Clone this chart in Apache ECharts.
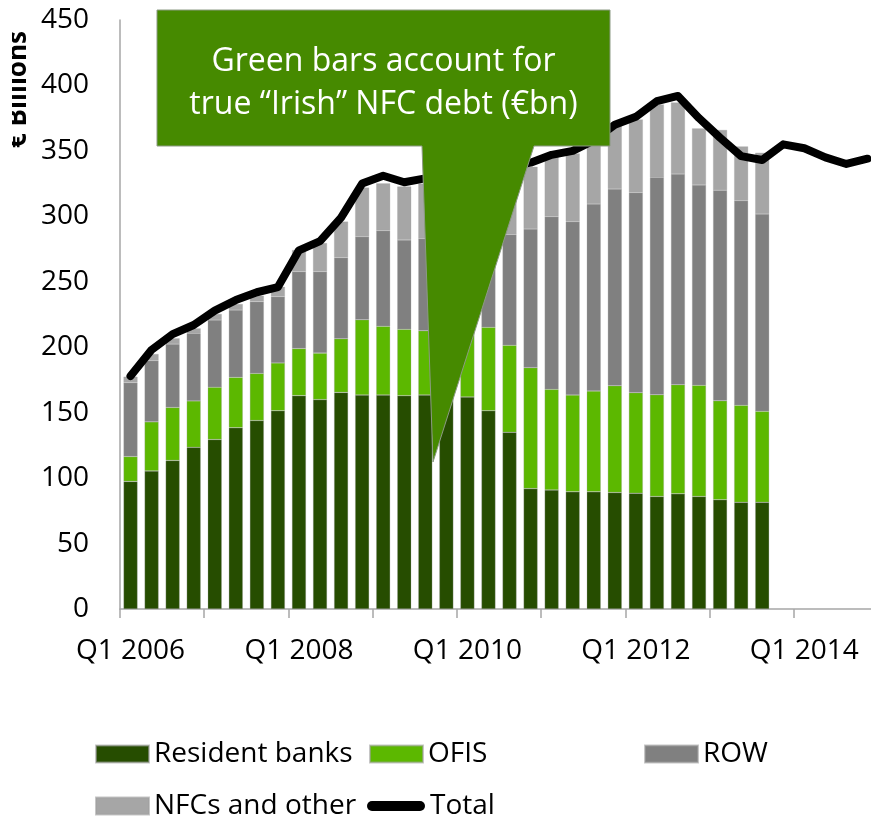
<!DOCTYPE html>
<html>
<head>
<meta charset="utf-8">
<script src="https://cdn.jsdelivr.net/npm/echarts@6/dist/echarts.min.js"></script>
<style>
html,body{margin:0;padding:0;background:#fff;overflow:hidden;width:871px;height:819px;}
#chart{width:878px;height:819px;}
</style>
</head>
<body>
<div id="chart"></div>
<script>
const categories = [
  'Q1 2006','Q2 2006','Q3 2006','Q4 2006','Q1 2007','Q2 2007','Q3 2007','Q4 2007',
  'Q1 2008','Q2 2008','Q3 2008','Q4 2008','Q1 2009','Q2 2009','Q3 2009','Q4 2009',
  'Q1 2010','Q2 2010','Q3 2010','Q4 2010','Q1 2011','Q2 2011','Q3 2011','Q4 2011',
  'Q1 2012','Q2 2012','Q3 2012','Q4 2012','Q1 2013','Q2 2013','Q3 2013','Q4 2013',
  'Q1 2014','Q2 2014','Q3 2014','Q4 2014'
];
const residentBanks = [97.5,105.5,113.5,123.5,129.5,138.5,144,151.5,163,160,165.5,163.5,163.5,163,163.5,162.5,162,151.5,135,92,91,89.5,89.5,89,88.5,86,88,86,83.5,81.5,81.5];
const ofis = [19,37.5,40.5,35.5,40,38.5,36,36.5,36,35.5,41,57.5,52.5,50.7,49.1,50.5,52.4,63.7,66.5,92.4,76.8,74,77,81.6,76.8,77.7,83.4,84.9,75.6,74.1,69.5];
const row = [56.4,46.7,48.4,51.6,51.3,51.4,54.8,50.6,58.7,62.2,61.9,63.4,73,68.3,70.4,71,67.6,70.8,84.7,105.9,131.9,132.4,142.9,150.3,152.7,166.1,160.9,153.1,160.9,156.3,150.8];
const nfcsOther = [4.6,5.1,4.4,3.8,4.6,4.6,4.6,7.6,16.6,21.9,27.6,37.6,36.2,40.8,42,43,48,47,49.8,47.6,45.8,52.2,47.6,48.8,56,55.7,54.7,43.2,46,41.5,46.8];
const total = [178,198,210,217,228,236,242,246,274,281,299,325,331,326,329,330,332,335,338,341,347,350,358,370,376,388,392,375,360,346,343,355,352,345,340,344];
const yTicks = [0,50,100,150,200,250,300,350,400,450];
const calloutText = 'Green bars account for\ntrue \u201CIrish\u201D NFC debt (\u20ACbn)';
const yAxisTitle = '\u20AC Billions';

const FONT = '"Open Sans", sans-serif';
const chart = echarts.init(document.getElementById('chart'));

const legendCommon = {
  padding: 0,
  itemWidth: 53,
  itemHeight: 17,
  selectedMode: false,
  textStyle: {fontFamily: FONT, fontSize: 28, color: '#000', lineHeight: 28}
};

function barSeries(name, data, color) {
  return {
    name: name, type: 'bar', stack: 'debt', data: data,
    barWidth: 14,
    itemStyle: {color: color, borderColor: 'rgba(160,160,160,0.6)', borderWidth: 0.5},
    emphasis: {disabled: true}
  };
}

chart.setOption({
  animation: false,
  backgroundColor: '#fff',
  grid: {left: 120, top: 20, right: 0, bottom: 210, containLabel: false},
  xAxis: {
    type: 'category',
    data: categories,
    boundaryGap: true,
    axisLine: {show: true, lineStyle: {color: '#a6a6a6', width: 1.5}},
    axisTick: {show: true, interval: 3, length: 9, lineStyle: {color: '#a6a6a6', width: 1.5}},
    axisLabel: {interval: 7, fontFamily: FONT, fontSize: 28, color: '#000', margin: 28},
    splitLine: {show: false}
  },
  yAxis: {
    type: 'value',
    min: yTicks[0], max: yTicks[yTicks.length - 1], interval: 50,
    axisLine: {show: true, lineStyle: {color: '#a6a6a6', width: 1.5}},
    axisTick: {show: false},
    axisLabel: {fontFamily: FONT, fontSize: 28, color: '#000', margin: 31},
    splitLine: {show: false}
  },
  legend: [
    Object.assign({}, legendCommon, {data: [{name: 'Resident banks', icon: 'rect'}], left: 95, top: 740}),
    Object.assign({}, legendCommon, {data: [{name: 'OFIS', icon: 'rect'}], left: 369, top: 740}),
    Object.assign({}, legendCommon, {data: [{name: 'ROW', icon: 'rect'}], left: 644, top: 740}),
    Object.assign({}, legendCommon, {data: [{name: 'NFCs and other', icon: 'rect'}], left: 95, top: 792}),
    Object.assign({}, legendCommon, {data: [{name: 'Total', icon: 'path://M5,0 L53,0 A5,5 0 0 1 53,10 L5,10 A5,5 0 0 1 5,0 Z'}], left: 367, top: 792, itemWidth: 58, itemHeight: 10})
  ],
  series: [
    barSeries('Resident banks', residentBanks, '#264d00'),
    barSeries('OFIS', ofis, '#5cb800'),
    barSeries('ROW', row, '#808080'),
    barSeries('NFCs and other', nfcsOther, '#a6a6a6'),
    {
      name: 'Total', type: 'line', data: total,
      symbol: 'none', smooth: false, z: 5,
      itemStyle: {color: '#000'},
      lineStyle: {color: '#000', width: 8, cap: 'round', join: 'round'},
      emphasis: {disabled: true}
    }
  ],
  graphic: [
    {
      type: 'text', z: 10,
      x: 19, y: 148, rotation: Math.PI / 2,
      style: {text: yAxisTitle, font: 'bold 26px ' + FONT, fill: '#000', textAlign: 'left', textVerticalAlign: 'middle'}
    },
    {
      type: 'rect', z: 11,
      shape: {x: 0, y: 15, width: 12, height: 140},
      style: {fill: '#fff'}
    },
    {
      type: 'polygon', z: 20,
      shape: {points: [[157,10],[610,10],[610,146],[534,146],[433,462],[422,146],[157,146]]},
      style: {fill: '#468a00', stroke: '#8c9a84', lineWidth: 1}
    },
    {
      type: 'text', z: 21,
      x: 383.5, y: 83,
      style: {text: calloutText, font: '32px ' + FONT, fill: '#fff', textAlign: 'center', textVerticalAlign: 'middle', lineHeight: 43}
    }
  ]
});
</script>
</body>
</html>
